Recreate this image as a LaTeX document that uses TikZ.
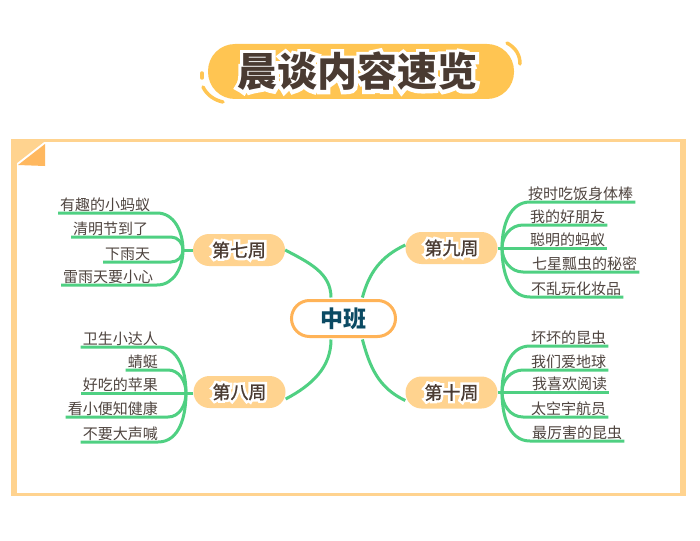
\documentclass[tikz,border=0pt]{standalone}
\usepackage{fontspec}
\setmainfont{Noto Sans CJK SC}
\newfontfamily\weekface[FakeBold=1]{Noto Sans CJK SC}
\newfontfamily\halobig[FakeBold=18]{Noto Sans CJK SC}
\newfontfamily\halosmall[FakeBold=30]{Noto Sans CJK SC}
\definecolor{panelc}{HTML}{FFD38F}
\definecolor{foldc}{HTML}{FFB85F}
\definecolor{pillc}{HTML}{FFC552}
\definecolor{linec}{HTML}{4FD082}
\definecolor{ringc}{HTML}{FFB357}
\definecolor{inkc}{HTML}{4A3B32}
\definecolor{leafc}{HTML}{4F4540}
\definecolor{tealc}{HTML}{0B4A63}
\newcommand{\weektext}[1]{\rlap{\halosmall\color{white}#1}#1}
\tikzstyle{week} = [rectangle, rounded corners=16pt, minimum width=92pt, minimum height=32pt, inner sep=0pt, fill=panelc, text=inkc, font=\weekface\fontsize{18}{18}\selectfont]
\tikzstyle{leaf} = [inner xsep=2pt, inner ysep=0pt, text height=13pt, text depth=2pt, text=leafc, font=\fontsize{15}{15}\selectfont]
\tikzstyle{branch} = [line width=3pt, draw=linec]
\tikzstyle{spark} = [line width=3.5pt, draw=pillc, line cap=round]

\begin{document}
\begin{tikzpicture}[x=1pt, y=-1pt]
\useasboundingbox (0,0) rectangle (700,540);
% 外框与折角
\fill [panelc] (11,139) rectangle (686,496);
\fill [white] (17,142) rectangle (680,493);
\fill [panelc] (17,142) -- (44,142) -- (17,163) -- cycle;
\fill [foldc] (45,144) -- (45,166) -- (18,165) -- cycle;
% 标题
\node (title) [rectangle, rounded corners=27pt, minimum width=306pt, minimum height=55pt, inner sep=0pt, fill=pillc, text=inkc] at (361,71.5) {\hspace*{-7pt}\fontsize{40}{40}\bfseries\rlap{\halobig\bfseries\color{white}晨谈内容速览}晨谈内容速览};
\draw [spark] (507,43) .. controls (516,48) and (520,55) .. (520,64);
\draw [spark] (203,87) .. controls (207,95) and (214,100) .. (223,102);
\draw [spark] (202,73) -- (202,78);

\node (center) [rectangle, rounded corners=18pt, minimum width=104pt, minimum height=36pt, inner sep=0pt, draw=ringc, line width=3pt, fill=white, text=tealc, font=\fontsize{23}{23}\bfseries] at (343.5,318.5) {中班};
\node (w7) [week] at (239,250) {\weektext{第七周}};
\node (w8) [week] at (239.5,392) {\weektext{第八周}};
\node (w9) [week] at (451.5,248) {\weektext{第九周}};
\node (w10) [week] at (451.5,392.5) {\weektext{第十周}};

% 中心到各周
\draw [branch, shorten >=1.5pt] (w7.east) to[out=-28,in=90] ([xshift=-12.5pt]center.north);
\draw [branch, shorten >=1.5pt] ([yshift=-7pt]w8.east) to[out=28,in=-90] ([xshift=-12.5pt]center.south);
\draw [branch, shorten >=1.5pt] ([yshift=3pt]w9.west) to[out=205,in=75] ([xshift=18.5pt]center.north);
\draw [branch, shorten >=1.5pt] ([yshift=-8pt]w10.west) to[out=155,in=-75] ([xshift=18.5pt]center.south);

% 第七周
\coordinate (j7) at (183,250);
\node (l71) [leaf, anchor=south west] at (58,213) {有趣的小蚂蚁};
\node (l72) [leaf, anchor=south west] at (71,237) {清明节到了};
\node (l73) [leaf, anchor=south west] at (103,262) {下雨天};
\node (l74) [leaf, anchor=south west] at (61,285) {雷雨天要小心};
\draw [branch] (w7.west) -- (j7);
\draw [branch] (j7) to[out=90,in=0] ++(-26,-37) -- (l71.south west);
\draw [branch] (j7) to[out=90,in=0] ++(-12,-13) -- (l72.south west);
\draw [branch] (j7) to[out=-90,in=0] ++(-12,12) -- (l73.south west);
\draw [branch] (j7) to[out=-90,in=0] ++(-26,35) -- (l74.south west);

% 第八周
\coordinate (j8) at (186,393);
\node (l81) [leaf, anchor=south east] at (160,347) {卫生小达人};
\node (l82) [leaf, anchor=south east] at (160,370) {蜻蜓};
\node (l83) [leaf, anchor=south east] at (160,393) {好吃的苹果};
\node (l84) [leaf, anchor=south east] at (160,417) {看小便知健康};
\node (l85) [leaf, anchor=south east] at (160,442) {不要大声喊};
\draw [branch] (j8) to[out=90,in=0] ++(-28,-46) -- (l81.south west);
\draw [branch] (j8) to[out=90,in=0] ++(-18,-23) -- (l82.south west);
\draw [branch] (w8.west |- j8) -- (l83.south west);
\draw [branch] (j8) to[out=-90,in=0] ++(-18,24) -- (l84.south west);
\draw [branch] (j8) to[out=-90,in=0] ++(-28,49) -- (l85.south west);

% 第九周
\coordinate (j9) at (502,248);
\node (l91) [leaf, anchor=south west] at (526,202) {按时吃饭身体棒};
\node (l92) [leaf, anchor=south west] at (528,225) {我的好朋友};
\node (l93) [leaf, anchor=south west] at (528,248) {聪明的蚂蚁};
\node (l94) [leaf, anchor=south west] at (530,272) {七星瓢虫的秘密};
\node (l95) [leaf, anchor=south west] at (529,297) {不乱玩化妆品};
\draw [branch] (j9) to[out=90,in=180] ++(28,-46) -- (l91.south east);
\draw [branch] (j9) to[out=90,in=180] ++(21,-23) -- (l92.south east);
\draw [branch] (w9.east) -- (l93.south east);
\draw [branch] (j9) to[out=-90,in=180] ++(21,24) -- (l94.south east);
\draw [branch] (j9) to[out=-90,in=180] ++(28,49) -- (l95.south east);

% 第十周
\coordinate (j10) at (502,392);
\node (l101) [leaf, anchor=south west] at (529,346) {坏坏的昆虫};
\node (l102) [leaf, anchor=south west] at (529,370) {我们爱地球};
\node (l103) [leaf, anchor=south west] at (530,392) {我喜欢阅读};
\node (l104) [leaf, anchor=south west] at (529,417) {太空宇航员};
\node (l105) [leaf, anchor=south west] at (530,441) {最厉害的昆虫};
\draw [branch] (j10) to[out=90,in=180] ++(28,-46) -- (l101.south east);
\draw [branch] (j10) to[out=90,in=180] ++(21,-22) -- (l102.south east);
\draw [branch] (w10.east |- j10) -- (l103.south east);
\draw [branch] (j10) to[out=-90,in=180] ++(21,25) -- (l104.south east);
\draw [branch] (j10) to[out=-90,in=180] ++(28,49) -- (l105.south east);
\end{tikzpicture}
\end{document}
